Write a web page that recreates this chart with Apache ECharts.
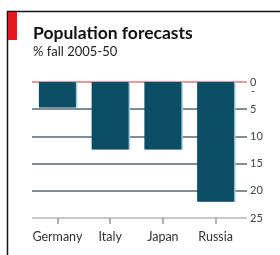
<!DOCTYPE html>
<html>
<head>
<meta charset="utf-8">
<script src="https://cdn.jsdelivr.net/npm/echarts@6/dist/echarts.min.js"></script>
<style>
  html, body { margin: 0; padding: 0; background: #fff; }
  #chart { width: 280px; height: 255px; }
</style>
</head>
<body>
<div id="chart"></div>
<script>
// data
var countries = ["Germany", "Italy", "Japan", "Russia"];
var popFall = [4.7, 12.4, 12.4, 22.0];
var yTicks = [0, 5, 10, 15, 20, 25];

var font = "Lato";
var chart = echarts.init(document.getElementById("chart"));

chart.setOption({
    animation: false,
    backgroundColor: "#fff",
    graphic: [
        // frame lines
        { type: "line", shape: { x1: 7.5, y1: 11, x2: 7.5, y2: 255 }, style: { stroke: "#111", lineWidth: 1.5 } },
        { type: "line", shape: { x1: 7, y1: 11.5, x2: 280, y2: 11.5 }, style: { stroke: "#111", lineWidth: 1.5 } },
        { type: "rect", shape: { x: 8, y: 12, width: 9, height: 28 }, style: { fill: "#e3191f" } },
        { type: "text", left: 33, top: 24, style: { text: "Population forecasts", font: "bold 17.5px " + font, fill: "#111" } },
        { type: "text", left: 33, top: 45, style: { text: "% fall 2005-50", font: "13px " + font, fill: "#222" } },
        { type: "text", left: 251, top: 86, style: { text: "-", font: "11px " + font, fill: "#444" } }
    ],
    grid: [
        { left: 32, right: 33, top: 82, bottom: 37 },
        { left: 31, right: 38, top: 82, bottom: 37 }
    ],
    xAxis: [
        { gridIndex: 0, type: "value", show: false },
        {
            gridIndex: 1, type: "category", data: countries, position: "bottom",
            axisLine: { show: true, onZero: false, lineStyle: { color: "rgba(0,0,0,0)" } },
            axisTick: { show: true, interval: 0, alignWithLabel: true, length: 6, lineStyle: { color: "#999", width: 1.5 } },
            axisLabel: { interval: 0, margin: 12, fontFamily: font, fontSize: 12.5, color: "#333" }
        }
    ],
    yAxis: [
        {
            gridIndex: 0, type: "value", inverse: true, position: "right",
            min: 0, max: 25, interval: 5,
            axisLine: { show: false }, axisTick: { show: false },
            axisLabel: {
                margin: 3, fontFamily: font, fontSize: 11, color: "#444",
                formatter: function (v) { return yTicks.indexOf(v) >= 0 ? String(v) : ""; }
            },
            splitLine: {
                show: true,
                lineStyle: { width: 2, color: ["#e89a9a", "#7d8e98", "#7d8e98", "#7d8e98", "#7d8e98", "#c4c8cb"] }
            }
        },
        { gridIndex: 1, type: "value", inverse: true, min: 0, max: 25, show: false }
    ],
    series: [
        {
            type: "bar", xAxisIndex: 1, yAxisIndex: 1, data: popFall, barWidth: 37,
            itemStyle: { color: "#0a4d65", shadowColor: "#a8cfe0", shadowOffsetX: 1.5, shadowBlur: 0 }
        }
    ]
});
</script>
</body>
</html>
